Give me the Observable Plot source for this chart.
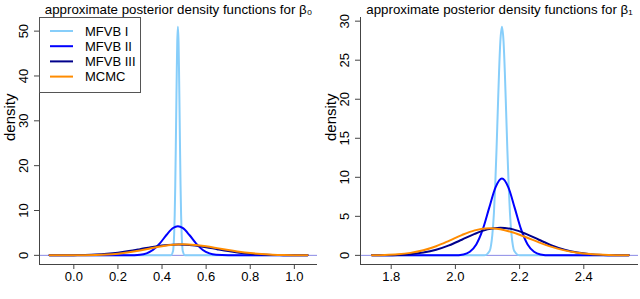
<!DOCTYPE html>
<html><head><meta charset="utf-8">
<script src="https://cdn.jsdelivr.net/npm/d3@7"></script>
<script src="https://cdn.jsdelivr.net/npm/@observablehq/plot@0.6"></script>
<style>
html,body{margin:0;padding:0;background:#fff;}
#wrap{display:flex;width:640px;height:299px;overflow:hidden;}
svg{display:block}
</style></head><body><div id="wrap"></div>
<script>
// ---------- data ----------
const seriesNames = ["MFVB I", "MFVB II", "MFVB III", "MCMC"];
const seriesColors = ["#87CEFA", "#0000FF", "#00008B", "#FF8C00"];

const titleB0 = "approximate posterior density functions for β₀";
const titleB1 = "approximate posterior density functions for β₁";
const yLabel = "density";

const b0XTicks = [0.0, 0.2, 0.4, 0.6, 0.8, 1.0];
const b0YTicks = [0, 10, 20, 30, 40, 50];
const b1XTicks = [1.8, 2.0, 2.2, 2.4];
const b1YTicks = [0, 5, 10, 15, 20, 25, 30];

// beta0 panel
const b0_I_x = [-0.11, 0.44, 0.45, 0.4525, 0.455, 0.4575, 0.46, 0.4625, 0.465, 0.467, 0.469, 0.472, 0.475, 0.477, 0.479, 0.4815, 0.484, 0.4865, 0.489, 0.4915, 0.494, 0.504, 1.06];
const b0_I_y = [0, 0, 0.95, 2.24, 4.7, 9.0, 15.6, 24.3, 34.1, 41.5, 47.4, 51, 47.4, 41.5, 34.1, 24.3, 15.6, 9.0, 4.7, 2.24, 0.95, 0, 0];
const b0_II_x = [-0.11, 0.25, 0.30, 0.33, 0.36, 0.39, 0.42, 0.45, 0.472, 0.495, 0.525, 0.555, 0.585, 0.615, 0.645, 0.70, 1.06];
const b0_II_y = [0, 0.01, 0.13, 0.45, 1.24, 2.66, 4.54, 6.10, 6.5, 6.06, 4.48, 2.61, 1.20, 0.43, 0.12, 0.01, 0];
const b0_III_x = [-0.11, -0.05, 0.0, 0.05, 0.10, 0.15, 0.20, 0.25, 0.30, 0.35, 0.40, 0.45, 0.475, 0.50, 0.55, 0.60, 0.65, 0.70, 0.75, 0.80, 0.85, 0.90, 0.95, 1.00, 1.06];
const b0_III_y = [0.005, 0.015, 0.04, 0.09, 0.18, 0.35, 0.60, 0.96, 1.38, 1.82, 2.18, 2.39, 2.42, 2.39, 2.18, 1.82, 1.38, 0.96, 0.60, 0.35, 0.18, 0.09, 0.04, 0.015, 0.005];
const b0_MC_x = [-0.11, 0.0, 0.05, 0.10, 0.15, 0.20, 0.25, 0.30, 0.35, 0.40, 0.45, 0.49, 0.55, 0.60, 0.65, 0.70, 0.75, 0.80, 0.85, 0.90, 0.95, 1.00, 1.06];
const b0_MC_y = [0.001, 0.012, 0.033, 0.083, 0.185, 0.38, 0.68, 1.10, 1.59, 2.05, 2.36, 2.45, 2.31, 2.01, 1.61, 1.19, 0.81, 0.51, 0.29, 0.16, 0.077, 0.036, 0.011];

// beta1 panel
const b1_I_x = [1.74, 2.09, 2.107, 2.111, 2.115, 2.12, 2.124, 2.128, 2.132, 2.136, 2.14, 2.145, 2.15, 2.154, 2.158, 2.162, 2.166, 2.17, 2.175, 2.179, 2.183, 2.2, 2.54];
const b1_I_y = [0, 0, 0.6, 1.29, 2.6, 5.4, 8.9, 13.4, 18.5, 23.5, 27.4, 29.3, 27.4, 23.5, 18.5, 13.4, 8.9, 5.4, 2.6, 1.29, 0.6, 0, 0];
const b1_II_x = [1.74, 1.995, 2.025, 2.045, 2.065, 2.085, 2.105, 2.125, 2.145, 2.165, 2.185, 2.205, 2.225, 2.245, 2.265, 2.295, 2.54];
const b1_II_y = [0, 0.01, 0.12, 0.47, 1.40, 3.29, 6.05, 8.72, 9.85, 8.72, 6.05, 3.29, 1.40, 0.47, 0.12, 0.01, 0];
const b1_III_x = [1.74, 1.78, 1.82, 1.86, 1.90, 1.94, 1.98, 2.02, 2.06, 2.10, 2.14, 2.18, 2.22, 2.26, 2.30, 2.34, 2.38, 2.42, 2.46, 2.50, 2.54];
const b1_III_y = [0.006, 0.02, 0.06, 0.156, 0.36, 0.72, 1.28, 2.00, 2.75, 3.33, 3.55, 3.33, 2.75, 2.00, 1.28, 0.72, 0.36, 0.156, 0.06, 0.02, 0.006];
const b1_MC_x = [1.74, 1.78, 1.82, 1.86, 1.90, 1.94, 1.98, 2.02, 2.06, 2.105, 2.14, 2.18, 2.22, 2.26, 2.30, 2.34, 2.38, 2.42, 2.46, 2.50, 2.54];
const b1_MC_y = [0.017, 0.05, 0.136, 0.32, 0.65, 1.17, 1.86, 2.60, 3.20, 3.47, 3.34, 2.92, 2.32, 1.67, 1.09, 0.64, 0.345, 0.167, 0.075, 0.03, 0.011];

// ---------- drawing ----------
const axisColor = "#444";
const zeroColor = "#8a8ae6";
const fontFamily = "'Liberation Sans', Arial, Helvetica, sans-serif";

function rowsOf(list) {
  return list.flatMap(([name, xs, ys]) => xs.map((x, i) => ({series: name, x, y: ys[i]})));
}

function panel({title, xDomain, yDomain, xTicks, yTicks, rows, marginLeft, marginRight}) {
  return Plot.plot({
    width: 320, height: 299,
    marginLeft, marginRight, marginTop: 17, marginBottom: 35,
    style: {fontFamily, background: "white", color: "black"},
    x: {domain: xDomain},
    y: {domain: yDomain},
    color: {domain: seriesNames, range: seriesColors},
    marks: [
      Plot.ruleY([0], {stroke: zeroColor, strokeWidth: 1}),
      Plot.line(rows, {x: "x", y: "y", z: "series", stroke: "series", strokeWidth: 2, curve: "monotone-x"}),
      Plot.ruleX([xDomain[0]], {stroke: axisColor}),
      Plot.ruleY([yDomain[0]], {stroke: axisColor}),
      Plot.axisX({ticks: xTicks, tickFormat: d3.format(".1f"), tickSize: 5, tickPadding: 2, fontSize: 13, stroke: axisColor, label: null}),
      Plot.axisY({ticks: yTicks, tickFormat: d3.format("d"), tickSize: 5, tickRotate: -90, tickPadding: 7, fontSize: 13, stroke: axisColor, label: null}),
      Plot.text([title], {frameAnchor: "top", dy: -4, lineAnchor: "bottom", fontSize: 13.3}),
      Plot.text([yLabel], {frameAnchor: "left", dx: -35, rotate: -90, lineAnchor: "top", fontSize: 15})
    ]
  });
}

const left = panel({
  title: titleB0,
  xDomain: [-0.1556, 1.105], yDomain: [-2.04, 53.04],
  xTicks: b0XTicks, yTicks: b0YTicks,
  rows: rowsOf([["MFVB I", b0_I_x, b0_I_y], ["MFVB II", b0_II_x, b0_II_y], ["MFVB III", b0_III_x, b0_III_y], ["MCMC", b0_MC_x, b0_MC_y]]),
  marginLeft: 39, marginRight: 3
});
const right = panel({
  title: titleB1,
  xDomain: [1.7044, 2.5704], yDomain: [-1.17, 30.47],
  xTicks: b1XTicks, yTicks: b1YTicks,
  rows: rowsOf([["MFVB I", b1_I_x, b1_I_y], ["MFVB II", b1_II_x, b1_II_y], ["MFVB III", b1_III_x, b1_III_y], ["MCMC", b1_MC_x, b1_MC_y]]),
  marginLeft: 40, marginRight: 2
});

// legend (R-style box, top-left of the first panel)
const g = d3.select(left).append("g").attr("font-family", fontFamily).attr("text-anchor", "start");
g.append("rect").attr("x", 39.5).attr("y", 17.5).attr("width", 101).attr("height", 75)
  .attr("fill", "white").attr("stroke", "#555").attr("stroke-width", 1);
seriesNames.forEach((name, i) => {
  const yy = 31 + i * 15.2;
  g.append("line").attr("x1", 50).attr("x2", 73).attr("y1", yy).attr("y2", yy)
    .attr("stroke", seriesColors[i]).attr("stroke-width", 2);
  g.append("text").attr("x", 85).attr("y", yy + 4.6).attr("font-size", 13)
    .attr("text-anchor", "start").attr("fill", "black").text(name);
});

document.getElementById("wrap").append(left, right);
</script>
</body></html>
